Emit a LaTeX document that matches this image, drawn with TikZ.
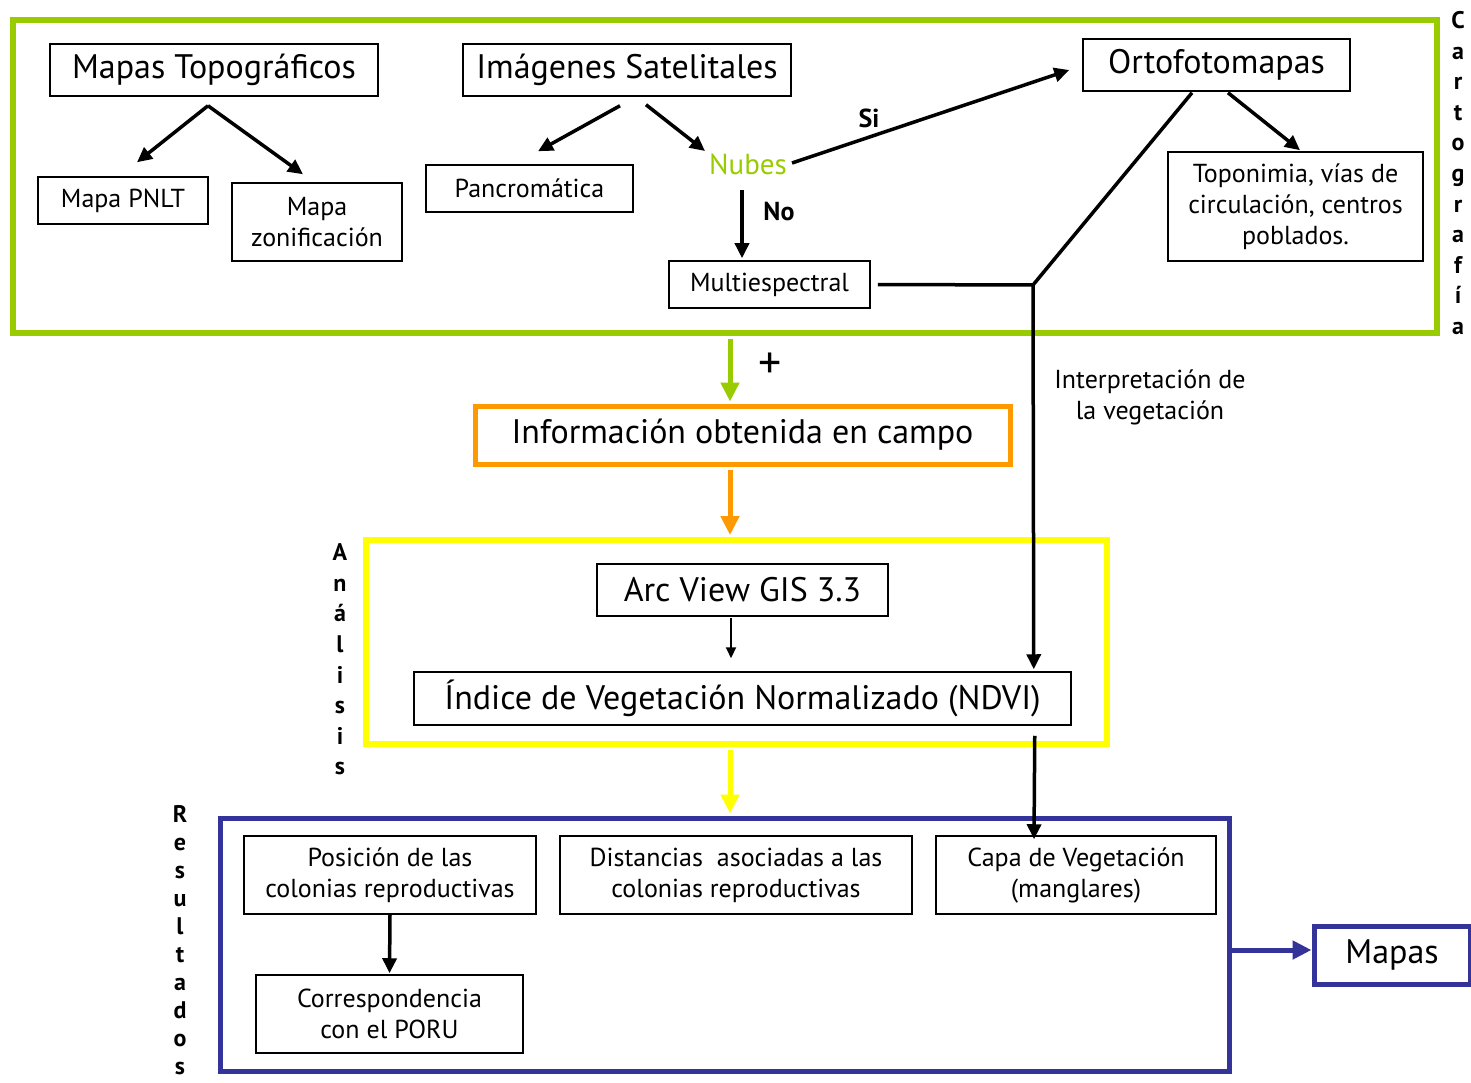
\documentclass[tikz,border=0pt]{standalone}
\usepackage{fontspec}
\setmainfont{PT Sans}
\usetikzlibrary{arrows.meta}

\definecolor{verdecarto}{HTML}{99CC00}
\definecolor{naranjacampo}{HTML}{FF9900}
\definecolor{amarilloanal}{HTML}{FFFF00}
\definecolor{azulres}{HTML}{333399}

\newcommand{\grande}{\fontsize{34}{38}\selectfont}
\newcommand{\medio}{\fontsize{26}{31}\selectfont}
\newcommand{\vertical}{\fontsize{24}{30.6}\selectfont\bfseries}

\tikzset{
	caja/.style={draw=black, line width=1.5pt, inner sep=0pt, align=center, font=\medio},
	marco/.style={draw, inner sep=0pt},
	flecha/.style={line width=3.5pt, -{Triangle[length=15pt,width=14pt]}},
	gruesa/.style={line width=5pt, -{Triangle[length=19pt,width=18pt]}},
	fina/.style={line width=2pt, -{Triangle[length=11pt,width=10pt]}},
	linea/.style={line width=3.5pt},
	etiqueta/.style={inner sep=0pt, align=center, font=\medio},
	letras/.style={inner sep=0pt, align=center, font=\vertical}
}

\begin{document}
\begin{tikzpicture}[x=1pt,y=-1pt]
	\useasboundingbox (0,0) rectangle (1471,1083);
	
	% marcos
	\node[marco, draw=verdecarto, line width=6pt, minimum width=1424pt, minimum height=313pt] (carto) at (725,176.5) {};
	\node[marco, draw=amarilloanal, line width=6pt, minimum width=741pt, minimum height=204pt] (analisis) at (736.5,642) {};
	\node[marco, draw=azulres, line width=5pt, minimum width=1009pt, minimum height=253pt] (result) at (724.5,944.5) {};
	
	\node[letras] (lcarto) at (1458,173) {C\\a\\r\\t\\o\\g\\r\\a\\f\\í\\a};
	\node[letras] (lanal) at (340,659.5) {A\\n\\á\\l\\i\\s\\i\\s};
	\node[letras, font=\fontsize{24}{28}\selectfont\bfseries] (lres) at (180,940) {R\\e\\s\\u\\l\\t\\a\\d\\o\\s};
	
	% cartografia
	\node[caja, font=\grande, minimum width=328pt, minimum height=52pt] (topo) at (214,70) {Mapas Topográficos};
	\node[caja, minimum width=170pt, minimum height=47pt] (pnlt) at (123,200.5) {Mapa PNLT};
	\node[caja, minimum width=170pt, minimum height=78pt] (zonif) at (317,222) {Mapa\\zonificación};
	\node[caja, font=\grande, minimum width=328pt, minimum height=52pt] (sat) at (627,70) {Imágenes Satelitales};
	\node[caja, minimum width=207pt, minimum height=47pt] (pancro) at (529.5,188.5) {Pancromática};
	\node[etiqueta, text=verdecarto, font=\fontsize{29}{31}\selectfont] (nubes) at (748,164) {Nubes};
	\node[caja, minimum width=201pt, minimum height=47pt] (multi) at (769.5,284.5) {Multiespectral};
	\node[caja, font=\grande, minimum width=267pt, minimum height=52pt] (orto) at (1216.5,65) {Ortofotomapas};
	\node[caja, minimum width=255pt, minimum height=109pt] (topon) at (1295.5,206.5) {Toponimia, vías de\\circulación, centros\\poblados.};
	\node[etiqueta, font=\medio\bfseries] (si) at (869,118) {Si};
	\node[etiqueta, font=\medio\bfseries] (no) at (779,212) {No};
	\coordinate (cruce) at (1033,285);
	
	\draw[flecha] ([shift={(-6,9)}]topo.south) -- ([shift={(14,-14)}]pnlt.north);
	\draw[flecha] ([shift={(-6,9)}]topo.south) -- ([shift={(-14,-8)}]zonif.north);
	\draw[flecha] ([shift={(-7,9)}]sat.south) -- ([shift={(8.5,-13)}]pancro.north);
	\draw[flecha] ([shift={(19,8)}]sat.south) -- ([shift={(-43,-13)}]nubes.center);
	\draw[flecha] ([shift={(44,-1)}]nubes.center) -- ([shift={(-13,5)}]orto.west);
	\draw[flecha] ([shift={(-6,26)}]nubes.center) -- ([shift={(-27.5,-2)}]multi.north);
	\draw[flecha] ([shift={(11.5,1)}]orto.south) -- ([shift={(4.5,-1)}]topon.north);
	\draw[linea] ([xshift=7pt]multi.east) -- (cruce);
	
	\node[etiqueta] (interp) at (1150,397) {Interpretación de\\la vegetación};
	\node[etiqueta, font=\fontsize{46}{46}\selectfont] (mas) at (770,366) {+};
	
	% campo y analisis
	\node[caja, draw=naranjacampo, line width=5pt, font=\grande, minimum width=535pt, minimum height=58pt] (campo) at (742.5,435) {Información obtenida en campo};
	\node[caja, font=\grande, minimum width=291pt, minimum height=52pt] (arcview) at (742.5,590) {Arc View GIS 3.3};
	\node[caja, font=\grande, minimum width=657pt, minimum height=53pt] (ndvi) at (742.5,698.5) {Índice de Vegetación Normalizado (NDVI)};
	
	\draw[flecha] ([shift={(-24.5,1)}]orto.south) -- (cruce) -- ([shift={(-38,-2)}]ndvi.north east);
	\draw[gruesa, draw=verdecarto, fill=verdecarto] ([shift={(5,3)}]carto.south) -- ([shift={(-12.5,-2)}]campo.north);
	\draw[gruesa, draw=naranjacampo, fill=naranjacampo] ([shift={(-12.5,3)}]campo.south) -- ([shift={(-6.5,-2)}]analisis.north);
	\draw[fina] ([shift={(-11.5,1)}]arcview.south) -- ([shift={(-11.5,-13)}]ndvi.north);
	\draw[gruesa, draw=amarilloanal, fill=amarilloanal] ([shift={(-6.5,3)}]analisis.south) -- ([shift={(5.5,-2)}]result.north);
	
	% resultados
	\node[caja, minimum width=292pt, minimum height=78pt] (posic) at (390,875) {Posición de las\\colonias reproductivas};
	\node[caja, minimum width=352pt, minimum height=78pt] (dist) at (736,875) {Distancias~ asociadas a las\\colonias reproductivas};
	\node[caja, minimum width=280pt, minimum height=78pt] (capa) at (1076,875) {Capa de Vegetación\\(manglares)};
	\node[caja, minimum width=267pt, minimum height=78pt] (corresp) at (389.5,1014) {Correspondencia\\con el PORU};
	\node[caja, draw=azulres, line width=5pt, font=\grande, minimum width=156pt, minimum height=58pt] (mapas) at (1392,955) {Mapas};
	
	\draw[flecha] ([shift={(-37,10)}]ndvi.south east) -- ([shift={(-42,4)}]capa.north);
	\draw[flecha] (posic.south) -- ([yshift=1pt]corresp.north);
	\draw[gruesa, draw=azulres, fill=azulres] ([shift={(0,5.5)}]result.east) -- ([shift={(0,-5)}]mapas.west);
\end{tikzpicture}
\end{document}
